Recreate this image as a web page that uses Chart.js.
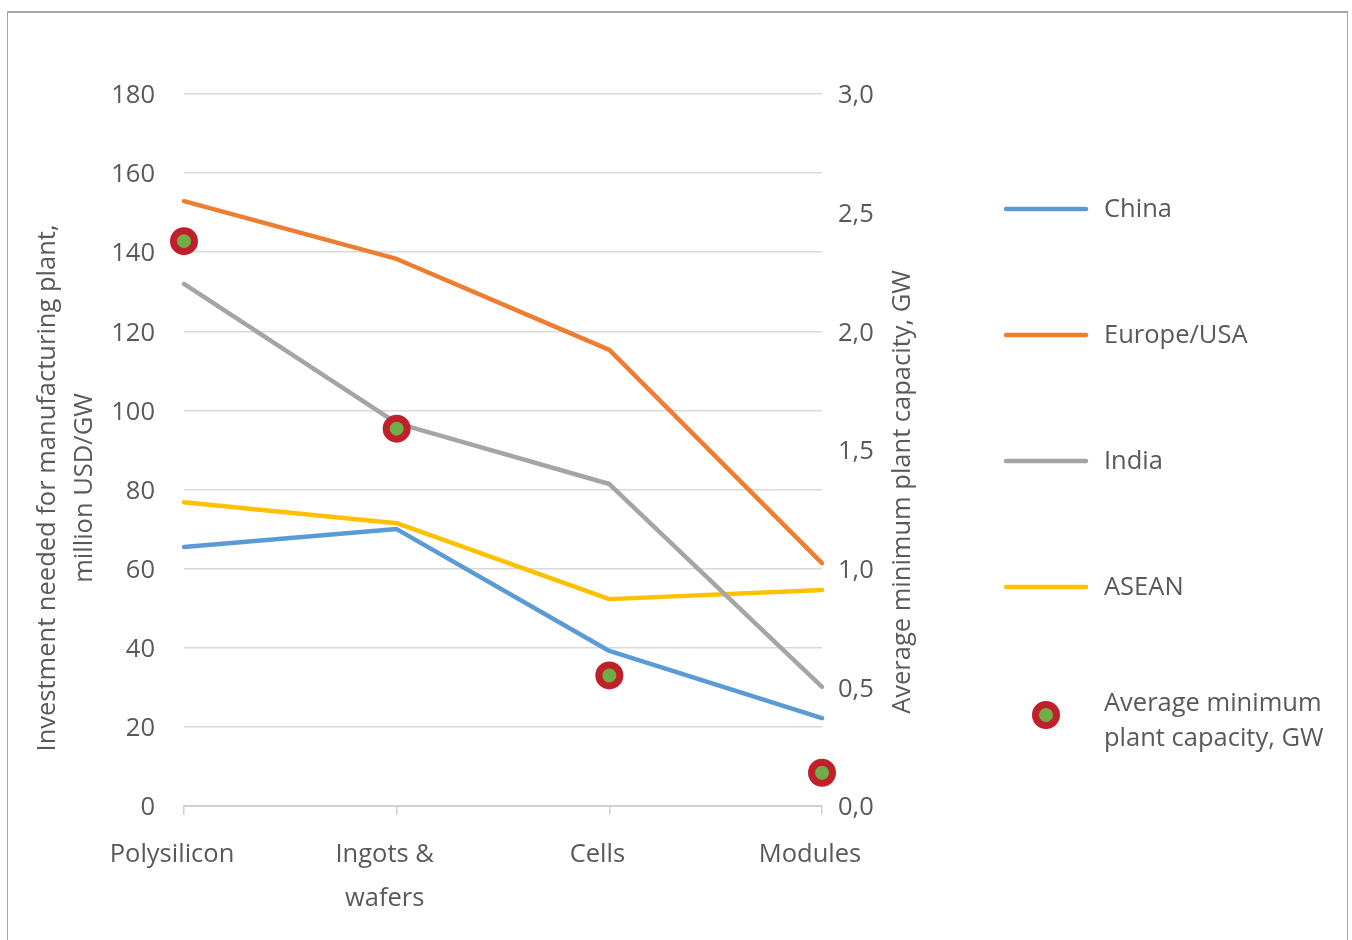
<!DOCTYPE html>
<html>
<head>
<meta charset="utf-8">
<script src="https://cdn.jsdelivr.net/npm/chart.js@4.4.1/dist/chart.umd.min.js"></script>
<style>
  html, body { margin: 0; padding: 0; background: #fff; }
  #wrap { position: relative; width: 1352px; height: 940px; overflow: hidden; }
  #frame { position: absolute; left: 7px; top: 11px; width: 1341px; height: 960px;
           border: 1px solid #a6a6a6; border-top: 2px solid #a6a6a6; box-sizing: border-box; }
  canvas { position: absolute; left: 0; top: 0; }
</style>
</head>
<body>
<div id="wrap">
  <div id="frame"></div>
  <canvas id="c" width="1352" height="940"></canvas>
</div>
<script>
// Value chain stages
const stages = ['Polysilicon', ['Ingots &', 'wafers'], 'Cells', 'Modules'];

// Investment needed for a manufacturing plant, million USD per GW
const china     = [65.5, 70.0, 39.2, 22.2];
const europeUsa = [152.9, 138.3, 115.3, 61.4];
const india     = [132.0, 96.8, 81.4, 30.1];
const asean     = [76.8, 71.5, 52.3, 54.6];

// Average minimum plant capacity, GW (right axis)
const minCapacity = [2.38, 1.59, 0.55, 0.14];

// Axis ticks
const leftTicks  = { min: 0, max: 180, step: 20 };
const rightTicks = { min: 0, max: 3, step: 0.5 };

const TEXT = '#595959';
const FONT = '"Open Sans", "Noto Sans", sans-serif';
const FSIZE = 25.5;

function lineSet(label, data, color) {
  return {
    label, data, yAxisID: 'y', order: 1,
    borderColor: color, backgroundColor: color,
    borderWidth: 4.5, pointRadius: 0, tension: 0,
    borderCapStyle: 'round', borderJoinStyle: 'round', clip: false
  };
}

// Axis titles and the side legend are drawn on the canvas after the chart
const sideDecor = {
  id: 'sideDecor',
  afterDraw(chart) {
    const ctx = chart.ctx;
    ctx.save();
    ctx.fillStyle = TEXT;
    ctx.font = FSIZE + 'px ' + FONT;
    ctx.textAlign = 'center';
    ctx.textBaseline = 'middle';

    // left axis title (two lines)
    ctx.save();
    ctx.translate(48, 488);
    ctx.rotate(-Math.PI / 2);
    ctx.fillText('Investment needed for manufacturing plant,', 0, 0);
    ctx.restore();
    ctx.save();
    ctx.translate(85, 488);
    ctx.rotate(-Math.PI / 2);
    ctx.fillText('million USD/GW', 0, 0);
    ctx.restore();

    // right axis title
    ctx.save();
    ctx.translate(903, 492);
    ctx.rotate(-Math.PI / 2);
    ctx.fillText('Average minimum plant capacity, GW', 0, 0);
    ctx.restore();

    // legend
    ctx.textAlign = 'left';
    const rows = [209, 335, 461, 587];
    const ds = chart.data.datasets;
    const lineSets = ds.filter(d => d.yAxisID === 'y');
    lineSets.forEach((d, i) => {
      const y = rows[i];
      ctx.strokeStyle = d.borderColor;
      ctx.lineWidth = 4.5;
      ctx.lineCap = 'round';
      ctx.beginPath();
      ctx.moveTo(1006, y);
      ctx.lineTo(1086, y);
      ctx.stroke();
      ctx.fillText(d.label, 1104, y + 1);
    });
    const dot = ds.find(d => d.yAxisID === 'y1');
    ctx.beginPath();
    ctx.arc(1046, 715, 10.5, 0, Math.PI * 2);
    ctx.fillStyle = dot.pointBackgroundColor;
    ctx.fill();
    ctx.lineWidth = 7;
    ctx.strokeStyle = dot.pointBorderColor;
    ctx.stroke();
    ctx.fillStyle = TEXT;
    dot.label.forEach((t, i) => ctx.fillText(t, 1104, 704 + i * 35));
    ctx.restore();
  }
};

new Chart(document.getElementById('c'), {
  type: 'line',
  data: {
    labels: stages,
    datasets: [
      lineSet('China', china, '#5B9BD5'),
      lineSet('Europe/USA', europeUsa, '#ED7D31'),
      lineSet('India', india, '#A5A5A5'),
      lineSet('ASEAN', asean, '#FFC000'),
      {
        label: ['Average minimum', 'plant capacity, GW'],
        data: minCapacity, yAxisID: 'y1', order: 0,
        showLine: false, clip: false,
        pointRadius: 10.5, pointHoverRadius: 10.5,
        pointBorderWidth: 7,
        pointBackgroundColor: '#70AD47', pointBorderColor: '#C0202A'
      }
    ]
  },
  options: {
    responsive: false,
    animation: false,
    layout: { padding: { top: 94, left: 0, right: 0, bottom: 0 } },
    plugins: { legend: { display: false }, tooltip: { enabled: false } },
    scales: {
      x: {
        offset: false,
        afterFit(s) { s.height = 134; },
        border: { display: true, color: '#D0D0D0', width: 2 },
        grid: { display: true, drawOnChartArea: false, drawTicks: true, tickLength: 9, color: '#D0D0D0', lineWidth: 1.5 },
        ticks: { color: TEXT, font: { family: FONT, size: FSIZE, lineHeight: 1.72 }, padding: 18, labelOffset: -12, maxRotation: 0, autoSkip: false }
      },
      y: {
        position: 'left',
        min: leftTicks.min, max: leftTicks.max,
        afterFit(s) { s.width = 184; },
        border: { display: false },
        grid: { color: '#D9D9D9', lineWidth: 1.5, drawTicks: false },
        ticks: { stepSize: leftTicks.step, color: TEXT, font: { family: FONT, size: FSIZE }, padding: 29, labelOffset: 2 }
      },
      y1: {
        position: 'right',
        min: rightTicks.min, max: rightTicks.max,
        afterFit(s) { s.width = 530; },
        border: { display: false },
        grid: { display: false, drawTicks: false },
        ticks: {
          stepSize: rightTicks.step, color: TEXT, font: { family: FONT, size: FSIZE }, padding: 16, labelOffset: 2,
          callback: v => v.toFixed(1).replace('.', ',')
        }
      }
    }
  },
  plugins: [sideDecor]
});
</script>
</body>
</html>
